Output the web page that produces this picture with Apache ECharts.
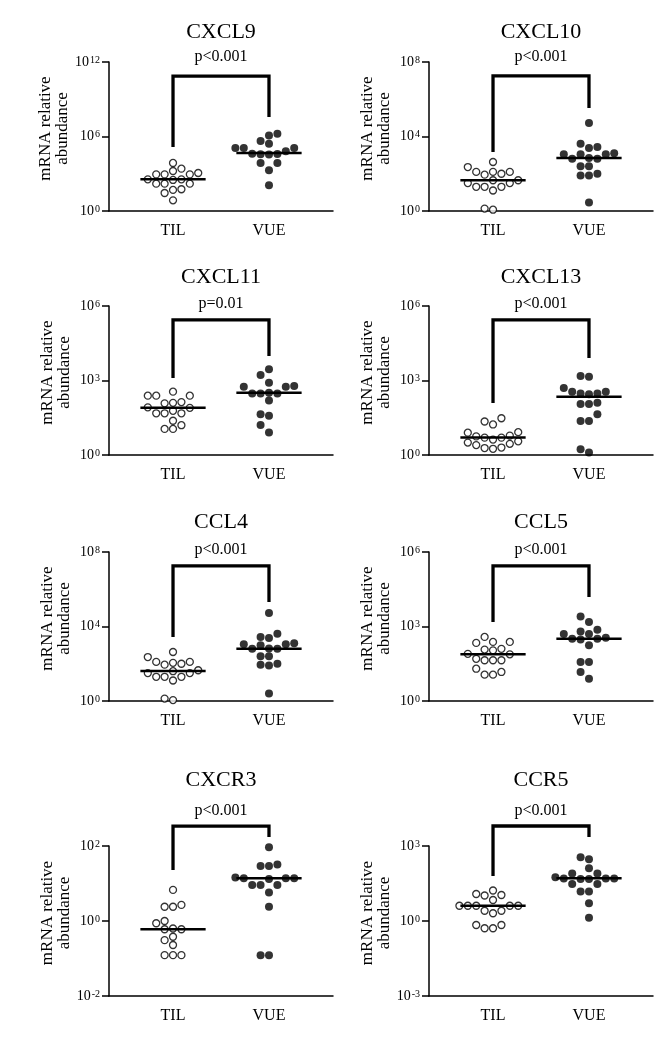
<!DOCTYPE html>
<html><head><meta charset="utf-8">
<script src="https://cdn.jsdelivr.net/npm/echarts@6/dist/echarts.min.js"></script>
<style>html,body{margin:0;padding:0;background:#fff}#c{width:661px;height:1050px}</style>
</head><body><div id="c"></div>
<script>
// ---------------- DATA (values are log10 of mRNA relative abundance) ----------------
const groups = ['TIL', 'VUE'];
const genes = ['CXCL9', 'CXCL10', 'CXCL11', 'CXCL13', 'CCL4', 'CCL5', 'CXCR3', 'CCR5'];
const pValues = ['p<0.001', 'p<0.001', 'p=0.01', 'p<0.001', 'p<0.001', 'p<0.001', 'p<0.001', 'p<0.001'];
const yMinExp = [0, 0, 0, 0, 0, 0, -2, -3];
const yMaxExp = [12, 8, 6, 6, 8, 6, 2, 3];
const yStepExp = [6, 4, 3, 3, 4, 3, 2, 3];

const CXCL9_TIL = [3.87, 3.41, 3.22, 3.06, 2.95, 2.95, 2.95, 2.55, 2.55, 2.50, 2.20, 2.20, 2.20, 1.75, 1.70, 1.45, 0.86];
const CXCL9_VUE = [6.23, 6.09, 5.64, 5.42, 5.07, 5.07, 5.07, 4.81, 4.62, 4.60, 4.58, 4.56, 3.87, 3.87, 3.28, 2.07];
const CXCL10_TIL = [2.63, 2.36, 2.10, 2.10, 2.10, 2.00, 1.95, 1.65, 1.65, 1.50, 1.50, 1.30, 1.30, 1.30, 1.10, 0.13, 0.07];
const CXCL10_VUE = [4.72, 3.61, 3.43, 3.38, 3.10, 3.05, 3.05, 3.05, 2.84, 2.80, 2.80, 2.40, 2.40, 2.00, 1.90, 1.90, 0.45];
const CXCL11_TIL = [2.55, 2.39, 2.39, 2.39, 2.13, 2.10, 2.08, 1.92, 1.90, 1.78, 1.68, 1.68, 1.68, 1.38, 1.20, 1.05, 1.05];
const CXCL11_VUE = [3.45, 3.22, 2.91, 2.78, 2.75, 2.75, 2.51, 2.48, 2.48, 2.48, 2.19, 1.64, 1.58, 1.21, 0.91];
const CXCL13_TIL = [1.48, 1.35, 1.23, 0.92, 0.90, 0.78, 0.75, 0.70, 0.70, 0.62, 0.55, 0.50, 0.45, 0.40, 0.30, 0.28, 0.25];
const CXCL13_VUE = [3.18, 3.15, 2.70, 2.55, 2.55, 2.48, 2.48, 2.45, 2.10, 2.05, 2.05, 1.64, 1.37, 1.37, 0.23, 0.10];
const CCL4_TIL = [2.63, 2.36, 2.10, 2.10, 2.05, 2.00, 1.95, 1.65, 1.60, 1.50, 1.50, 1.30, 1.30, 1.30, 1.10, 0.13, 0.05];
const CCL4_VUE = [4.72, 3.61, 3.43, 3.38, 3.10, 3.05, 3.05, 3.00, 2.82, 2.80, 2.80, 2.40, 2.40, 2.00, 1.95, 1.90, 0.40];
const CCL5_TIL = [2.58, 2.38, 2.38, 2.34, 2.10, 2.07, 2.04, 1.90, 1.88, 1.70, 1.64, 1.64, 1.64, 1.30, 1.17, 1.06, 1.06];
const CCL5_VUE = [3.40, 3.18, 2.87, 2.80, 2.70, 2.70, 2.55, 2.51, 2.51, 2.48, 2.24, 1.57, 1.57, 1.17, 0.90];
const CXCR3_TIL = [0.83, 0.43, 0.38, 0.38, 0.00, -0.06, -0.20, -0.22, -0.22, -0.42, -0.51, -0.64, -0.91, -0.91, -0.91];
const CXCR3_VUE = [1.97, 1.51, 1.47, 1.47, 1.16, 1.14, 1.14, 1.14, 1.12, 0.96, 0.96, 0.96, 0.76, 0.38, -0.91, -0.91];
const CCR5_TIL = [1.22, 1.08, 1.04, 1.02, 0.84, 0.61, 0.61, 0.61, 0.61, 0.61, 0.41, 0.41, 0.31, -0.16, -0.16, -0.29, -0.29];
const CCR5_VUE = [2.55, 2.47, 2.11, 1.90, 1.90, 1.75, 1.70, 1.70, 1.70, 1.68, 1.68, 1.48, 1.48, 1.18, 1.18, 0.71, 0.13];

const TIL_median = [2.55, 1.65, 1.90, 0.70, 1.61, 1.88, -0.22, 0.61];
const VUE_median = [4.67, 2.84, 2.51, 2.35, 2.81, 2.51, 1.14, 1.71];

// significance bracket (log10 units): top bar, end of TIL leg, end of VUE leg
const bracketTop = [10.87, 7.25, 5.44, 5.44, 7.25, 5.44, 2.53, 3.80];
const bracketTILEnd = [5.16, 3.17, 3.10, 2.09, 3.44, 3.18, 1.36, 1.80];
const bracketVUEEnd = [7.57, 5.53, 3.99, 3.91, 5.32, 4.19, 2.24, 3.36];

const tilValues = [CXCL9_TIL, CXCL10_TIL, CXCL11_TIL, CXCL13_TIL, CCL4_TIL, CCL5_TIL, CXCR3_TIL, CCR5_TIL];
const vueValues = [CXCL9_VUE, CXCL10_VUE, CXCL11_VUE, CXCL13_VUE, CCL4_VUE, CCL5_VUE, CXCR3_VUE, CCR5_VUE];

// ---------------- LAYOUT ----------------
const FONT = '"Liberation Serif","Times New Roman",serif';
const colLeft = [109, 429];
const rowTop = [62, 306, 552, 846];
const rowHeight = [149, 149, 149, 150];
const gridW = 224;
const titleY = [32, 277, 522, 780];
const pY = [57, 304, 550, 811];
const X_MIN = -0.667, X_MAX = 1.667;
const D = 8.4; // beeswarm column spacing in px

function swarm(vals, pyu, pxu) {
  const idx = vals.map((v, i) => i).sort((a, b) => vals[a] - vals[b]);
  const placed = [];
  const offs = new Array(vals.length).fill(0);
  idx.forEach(i => {
    const y = vals[i] * pyu;
    for (let k = 0; k < 30; k++) {
      const col = k === 0 ? 0 : (k % 2 ? -Math.ceil(k / 2) : Math.ceil(k / 2));
      if (!placed.some(p => p.col === col && Math.abs(p.y - y) < D * 0.92)) {
        placed.push({ col, y });
        offs[i] = col * D / pxu;
        break;
      }
    }
  });
  return offs;
}

const grid = [], xAxis = [], yAxis = [], series = [], graphic = [];
genes.forEach((g, i) => {
  const r = Math.floor(i / 2), c = i % 2;
  grid.push({ left: colLeft[c], top: rowTop[r], width: gridW, height: rowHeight[r], outerBoundsMode: 'none', containLabel: false });
  xAxis.push({
    gridIndex: i, type: 'value', min: X_MIN, max: X_MAX, position: 'bottom',
    axisLine: { onZero: false, lineStyle: { color: '#000', width: 1.5 } },
    axisTick: { show: false }, splitLine: { show: false },
    axisLabel: {
      customValues: [0, 1], formatter: v => groups[Math.round(v)],
      fontFamily: FONT, fontSize: 16, color: '#000', margin: 12
    }
  });
  yAxis.push({
    gridIndex: i, type: 'value', min: yMinExp[i], max: yMaxExp[i], interval: yStepExp[i], position: 'left',
    axisLine: { show: true, onZero: false, lineStyle: { color: '#000', width: 1.5 } },
    axisTick: { show: true, length: 7, lineStyle: { color: '#000', width: 1.5 } },
    splitLine: { show: false },
    axisLabel: {
      margin: 9, formatter: v => '{b|10}{s|' + v + '}',
      rich: {
        b: { fontFamily: FONT, fontSize: 14, color: '#000', lineHeight: 14 },
        s: { fontFamily: FONT, fontSize: 10, color: '#000', verticalAlign: 'top', lineHeight: 10, padding: [0, 0, 0, 1] }
      }
    },
    name: 'mRNA relative\nabundance', nameLocation: 'middle', nameRotate: 90, nameGap: 36,
    nameTextStyle: { fontFamily: FONT, fontSize: 17, lineHeight: 17, color: '#000', padding: [0, 0, 0, 16] }
  });
  const pyu = rowHeight[r] / (yMaxExp[i] - yMinExp[i]);
  const pxu = gridW / (X_MAX - X_MIN);
  const tOff = swarm(tilValues[i], pyu, pxu);
  const vOff = swarm(vueValues[i], pyu, pxu);
  series.push({
    type: 'scatter', xAxisIndex: i, yAxisIndex: i, silent: true, symbol: 'circle', symbolSize: 7,
    itemStyle: { color: '#fff', borderColor: '#000', borderWidth: 1.3 }, z: 2,
    data: tilValues[i].map((v, k) => [0 + tOff[k], v])
  });
  series.push({
    type: 'scatter', xAxisIndex: i, yAxisIndex: i, silent: true, symbol: 'circle', symbolSize: 8,
    itemStyle: { color: '#000' }, z: 2,
    data: vueValues[i].map((v, k) => [1 + vOff[k], v])
  });
  [TIL_median[i], VUE_median[i]].forEach((m, k) => {
    series.push({
      type: 'line', xAxisIndex: i, yAxisIndex: i, silent: true, symbol: 'none', z: 5,
      lineStyle: { color: '#000', width: 2.5 },
      data: [[k - 0.34, m], [k + 0.34, m]]
    });
  });
  series.push({
    type: 'line', xAxisIndex: i, yAxisIndex: i, silent: true, symbol: 'none', clip: false, z: 4,
    lineStyle: { color: '#000', width: 3.3, join: 'miter', cap: 'butt' },
    data: [[0, bracketTILEnd[i]], [0, bracketTop[i]], [1, bracketTop[i]], [1, bracketVUEEnd[i]]]
  });
  const cx = colLeft[c] + (0.5 - X_MIN) / (X_MAX - X_MIN) * gridW;
  graphic.push({ type: 'text', x: cx, y: titleY[r], style: { text: g, fontFamily: FONT, fontSize: 22, fill: '#000', align: 'center', verticalAlign: 'middle', textAlign: 'center', textVerticalAlign: 'middle' } });
  graphic.push({ type: 'text', x: cx, y: pY[r], style: { text: pValues[i], fontFamily: FONT, fontSize: 16, fill: '#000', align: 'center', verticalAlign: 'middle', textAlign: 'center', textVerticalAlign: 'middle' } });
});

const chart = echarts.init(document.getElementById('c'), null, { renderer: 'canvas' });
chart.setOption({ animation: false, backgroundColor: '#fff', grid, xAxis, yAxis, series, graphic });
</script></body></html>
